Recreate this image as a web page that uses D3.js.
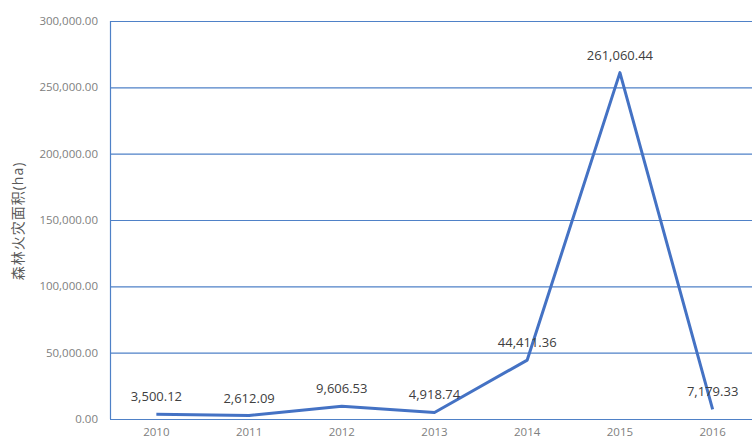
<!DOCTYPE html>
<html><head><meta charset="utf-8">
<script src="https://cdn.jsdelivr.net/npm/d3@7"></script>
<style>body{margin:0;background:#fff}svg{display:block}</style>
</head><body>
<svg id="c" width="752" height="440"></svg>
<script>
const years = ["2010","2011","2012","2013","2014","2015","2016"];
const areas = [3500.12, 2612.09, 9606.53, 4918.74, 44411.36, 261060.44, 7179.33];
const yTicks = [0, 50000, 100000, 150000, 200000, 250000, 300000];
const yTitle = "森林火灾面积(ha)";

const svg = d3.select("#c");
const m = {left:110, top:21, right:759, bottom:419};
const x = d3.scaleBand().domain(years).range([m.left, m.right]);
const y = d3.scaleLinear().domain([0, 300000]).range([m.bottom, m.top]);
const fmt = d3.format(",.2f");
const font = "'Open Sans','Noto Sans CJK SC',sans-serif";

svg.append("g").selectAll("line").data(yTicks).join("line")
  .attr("x1", m.left).attr("x2", m.right)
  .attr("y1", d=>y(d)+0.5).attr("y2", d=>y(d)+0.5)
  .attr("stroke", "#4f81c7").attr("stroke-width", 1.2);
svg.append("line").attr("x1", m.left+0.5).attr("x2", m.left+0.5)
  .attr("y1", m.top).attr("y2", m.bottom).attr("stroke", "#4f81c7").attr("stroke-width", 1.2);

svg.append("g").selectAll("text").data(yTicks).join("text")
  .attr("x", 98).attr("y", d=>y(d)+4)
  .attr("text-anchor", "end").attr("fill", "#808080")
  .style("font", "11.5px " + font).text(d=>fmt(d));

svg.append("g").selectAll("text").data(years).join("text")
  .attr("x", d=>x(d)+x.bandwidth()/2).attr("y", 436)
  .attr("text-anchor", "middle").attr("fill", "#808080")
  .style("font", "11.5px " + font).text(d=>d);

svg.append("text").attr("transform", "translate(23,221) rotate(-90)")
  .attr("text-anchor", "middle").attr("fill", "#595959")
  .style("font", "14px " + font).style("letter-spacing", "1px").text(yTitle);

const line = d3.line().x((d,i)=>x(years[i])+x.bandwidth()/2).y(d=>y(d));
svg.append("path").datum(areas).attr("d", line)
  .attr("fill", "none").attr("stroke", "#4472c4").attr("stroke-width", 3)
  .attr("stroke-linejoin", "round");

svg.append("g").selectAll("text").data(areas).join("text")
  .attr("x", (d,i)=>x(years[i])+x.bandwidth()/2)
  .attr("y", d=>y(d)-13)
  .attr("text-anchor", "middle").attr("fill", "#404040")
  .style("font", "13px " + font).text(d=>fmt(d));
</script>
</body></html>
